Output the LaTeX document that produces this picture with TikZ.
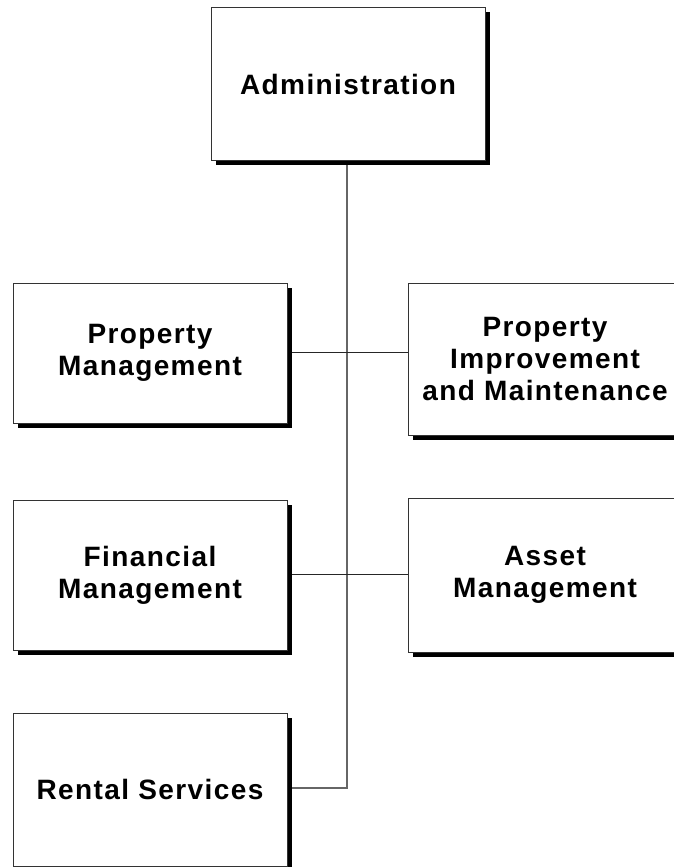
\documentclass[tikz,border=0pt]{standalone}
\usepackage{fontspec}
\setmainfont{Liberation Sans}[LetterSpace=5]
\usetikzlibrary{shadows}
\begin{document}
\begin{tikzpicture}[x=1pt,y=-1pt,
  orgbox/.style={draw=black!80, line width=1pt, fill=white, minimum width=274pt,
    inner sep=0pt, align=center, font=\bfseries\fontsize{28}{32}\selectfont,
    drop shadow={shadow xshift=4.5pt, shadow yshift=-4.5pt, fill=black, opacity=1}},
  vline/.style={draw=black!60, line width=1.3pt},
  hline/.style={draw=black!85, line width=1.3pt}]
\useasboundingbox (0,0) rectangle (673,867);
\fill[white] (0,0) rectangle (673,867);
% connectors
\coordinate (adm-s) at (347,160);
\coordinate (spine) at (347,788);
\draw[vline] (adm-s) -- (spine) -- (291,788);
\draw[hline] (291,352.5) -- (408,352.5);
\draw[hline] (291,574.5) -- (408,574.5);
% boxes
\node[orgbox, minimum height=152pt] (admin) at (348,84) {Administration};
\node[orgbox, minimum height=140pt] (pm) at (150,353) {Property\\Management};
\node[orgbox, minimum height=152pt] (pim) at (545,359) {Property\\Improvement\\and Maintenance};
\node[orgbox, minimum height=150pt] (fm) at (150,575) {Financial\\Management};
\node[orgbox, minimum height=154pt] (am) at (545,575) {Asset\\Management};
\node[orgbox, minimum height=153pt] (rs) at (150,789.5) {Rental Services};
\end{tikzpicture}
\end{document}
